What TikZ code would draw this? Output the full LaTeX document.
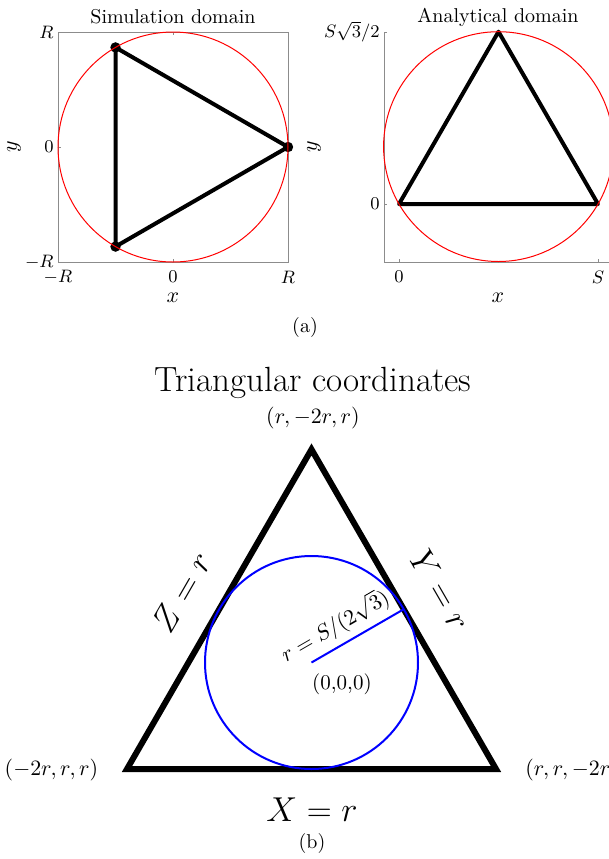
\documentclass[tikz,border=0pt]{standalone}
\begin{document}
\begin{tikzpicture}[x=0.5pt,y=-0.5pt,
  tri/.style={line width=2pt, line join=round, line cap=round},
  bigtri/.style={line width=3pt, line join=miter},
  redc/.style={red, line width=0.5pt},
  bluec/.style={blue, line width=1pt},
  axisline/.style={black!45, line width=0.5pt},
  tick/.style={inner sep=0pt, font=\fontsize{9.5}{11}\selectfont},
  axlbl/.style={inner sep=0pt, font=\fontsize{11}{12}\selectfont},
  ttl/.style={inner sep=0pt, font=\fontsize{10}{12}\selectfont},
  caplbl/.style={inner sep=0pt, font=\fontsize{10}{12}\selectfont},
  eqlbl/.style={inner sep=0pt, font=\fontsize{16}{19}\selectfont},
  vlbl/.style={inner sep=0pt, font=\fontsize{10.5}{12}\selectfont}]
\useasboundingbox (0,0) rectangle (609,859);

% ---------- Left panel: simulation domain ----------
\draw[axisline] (58,32) rectangle (288,262);
\foreach \t in {58,173,288}{
  \draw[axisline] (\t,262) -- ++(0,-3);
  \draw[axisline] (\t,32) -- ++(0,3);}
\foreach \t in {32,147,262}{
  \draw[axisline] (58,\t) -- ++(3,0);
  \draw[axisline] (288,\t) -- ++(-3,0);}
\coordinate (A1) at (288,147);
\coordinate (B1) at (115.5,47.4);
\coordinate (C1) at (115.5,246.6);
\draw[tri] (A1) -- (B1) -- (C1) -- cycle;
\foreach \p in {A1,B1,C1}{\fill (\p) circle[radius=2.6pt];}
\draw[redc] (173,147) circle[radius=57.5pt];
\node[ttl] (t1) at (173,17) {Simulation domain};
\node[tick, anchor=east] (ly1) at (54,32) {$R$};
\node[tick, anchor=east] (ly2) at (54,147) {$0$};
\node[tick, anchor=east] (ly3) at (54,262) {$-R$};
\node[tick] (lx1) at (58,277) {$-R$};
\node[tick] (lx2) at (173,277) {$0$};
\node[tick] (lx3) at (288,277) {$R$};
\node[axlbl] (xl1) at (173,298) {$x$};
\node[axlbl, rotate=90] (yl1) at (14,147) {$y$};

% ---------- Right panel: analytical domain ----------
\draw[axisline] (384,32) -- (384,262) -- (609,262);
\foreach \t in {32,204}{\draw[axisline] (384,\t) -- ++(3,0);}
\foreach \t in {399,598}{\draw[axisline] (\t,262) -- ++(0,-3);}
\coordinate (A2) at (399,204);
\coordinate (B2) at (598,204);
\coordinate (C2) at (498.5,31.7);
\draw[tri] (A2) -- (B2) -- (C2) -- cycle;
\draw[redc] (498.5,146.6) circle[radius=57.45pt];
\node[ttl] (t2) at (498,17) {Analytical domain};
\node[tick, anchor=east] (ry1) at (380,32) {$S\sqrt{3}/2$};
\node[tick, anchor=east] (ry2) at (380,204) {$0$};
\node[tick] (rx1) at (399,277) {$0$};
\node[tick] (rx2) at (598,277) {$S$};
\node[axlbl] (xl2) at (498,298) {$x$};
\node[axlbl, rotate=90] (yl2) at (314,147) {$y$};

\node[caplbl] (capa) at (305,327) {(a)};

% ---------- Bottom: triangular coordinates ----------
\node[inner sep=0pt, font=\fontsize{17.5}{21}\selectfont] (tt) at (313,383) {Triangular coordinates};
\coordinate (L) at (127,769);
\coordinate (R) at (496,769);
\coordinate (T) at (311.5,449.4);
\coordinate (O) at (311.5,662.5);
\coordinate (Q) at (403.7,609.25);
\draw[bigtri] (L) -- (R) -- (T) -- cycle;
\draw[bluec] (O) circle[radius=53.25pt];
\draw[bluec] (O) -- (Q);
\node[inner sep=0pt, rotate=30, font=\fontsize{10.8}{12}\selectfont] (rl) at (335,626) {$r=S/(2\sqrt{3})$};
\node[vlbl] (orig) at (342,684) {(0,0,0)};
\node[vlbl] (vt) at (313,418) {$(r,-2r,r)$};
\node[vlbl] (vl) at (51.5,770) {$(-2r,r,r)$};
\node[vlbl, anchor=west] (vr) at (525,770) {$(r,r,-2r)$};
\node[eqlbl, rotate=60] (zl) at (182,592) {$Z=r$};
\node[eqlbl, rotate=-60] (yl) at (441,590) {$Y=r$};
\node[eqlbl] (xl) at (312,810) {$X=r$};
\node[caplbl] (capb) at (312,843) {(b)};
\end{tikzpicture}
\end{document}
